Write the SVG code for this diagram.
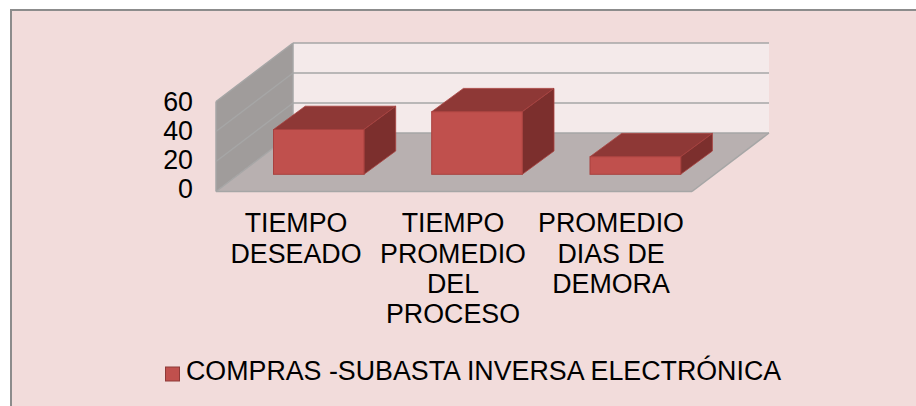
<svg xmlns="http://www.w3.org/2000/svg" width="916" height="406" viewBox="0 0 916 406">
  <style>
    .t { font-family: "Liberation Sans", Arial, sans-serif; font-size: 26.8px; fill: #000; }
    .c { text-anchor: middle; }
    .grid { stroke: #A6A6A6; stroke-width: 1.5; fill: none; }
    .front { fill: #C0504D; stroke: #A8413F; stroke-width: 1; }
    .top { fill: #8E3836; stroke: #A8413F; stroke-width: 0.8; }
    .side { fill: #7C2F2D; stroke: #A8413F; stroke-width: 0.8; }
  </style>
  <rect x="0" y="0" width="916" height="406" fill="#FFFFFF"/>
  <rect x="11" y="10" width="920" height="420" fill="#F2DCDB" stroke="#8C8C8C" stroke-width="2"/>

  <g id="plot-area">
    <rect x="293" y="43" width="476" height="90" fill="#F4EAEA"/>
    <polygon points="216,101.5 293,43 293,133 216,191.5" fill="#A09C9B"/>
    <polygon points="216,191.5 293,133 769,133 692,191.5" fill="#B8B0B0"/>
    <g class="grid">
      <line x1="293" y1="43" x2="769" y2="43"/>
      <line x1="293" y1="73" x2="769" y2="73"/>
      <line x1="293" y1="103" x2="769" y2="103"/>
      <line x1="293" y1="133" x2="769" y2="133"/>
      <line x1="216" y1="101.5" x2="293" y2="43"/>
      <line x1="216" y1="131.5" x2="293" y2="73"/>
      <line x1="216" y1="161.5" x2="293" y2="103"/>
      <line x1="216" y1="191.5" x2="293" y2="133"/>
      <line x1="216" y1="101.5" x2="216" y2="191.5"/>
      <line x1="293" y1="43" x2="293" y2="133"/>
      <line x1="216" y1="191.5" x2="692" y2="191.5"/>
      <line x1="692" y1="191.5" x2="769" y2="133"/>
    </g>
  </g>

  <g id="bar-tiempo-deseado">
    <polygon class="top" points="273.5,129.5 305.2,106.2 395.7,106.2 364,129.5"/>
    <polygon class="side" points="364,129.5 395.7,106.2 395.7,151 364,174.3"/>
    <rect class="front" x="273.5" y="129.5" width="90.5" height="44.8"/>
  </g>
  <g id="bar-tiempo-promedio">
    <polygon class="top" points="431.7,111.7 463.4,88.4 554,88.4 522.3,111.7"/>
    <polygon class="side" points="522.3,111.7 554,88.4 554,151 522.3,174.3"/>
    <rect class="front" x="431.7" y="111.7" width="90.6" height="62.6"/>
  </g>
  <g id="bar-promedio-dias">
    <polygon class="top" points="590,156.7 621.7,133.4 712.4,133.4 680.7,156.7"/>
    <polygon class="side" points="680.7,156.7 712.4,133.4 712.4,151 680.7,174.3"/>
    <rect class="front" x="590" y="156.7" width="90.7" height="17.6"/>
  </g>

  <g id="axis-labels" class="t" text-anchor="end">
    <text x="193" y="111">60</text>
    <text x="193" y="140">40</text>
    <text x="193" y="169">20</text>
    <text x="193" y="198">0</text>
  </g>

  <g id="category-labels" class="t c">
    <text x="296" y="232">TIEMPO</text>
    <text x="296" y="263">DESEADO</text>
    <text x="453" y="232">TIEMPO</text>
    <text x="453" y="263">PROMEDIO</text>
    <text x="453" y="293">DEL</text>
    <text x="453" y="323">PROCESO</text>
    <text x="611" y="232">PROMEDIO</text>
    <text x="611" y="263">DIAS DE</text>
    <text x="611" y="293">DEMORA</text>
  </g>

  <g id="legend">
    <rect x="165.5" y="367" width="14" height="14" fill="#C0504D" stroke="#8E3A38" stroke-width="1"/>
    <text class="t" x="186" y="379.5">COMPRAS -SUBASTA INVERSA ELECTRÓNICA</text>
  </g>
</svg>
